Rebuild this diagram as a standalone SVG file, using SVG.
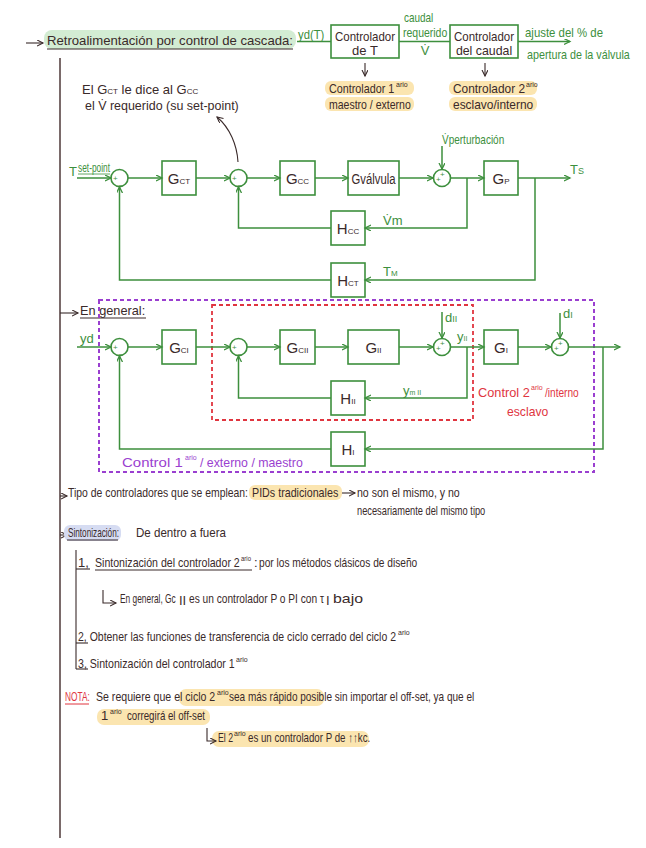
<svg xmlns="http://www.w3.org/2000/svg" width="646" height="848" viewBox="0 0 646 848">
<style>
text{font-family:"Liberation Sans","DejaVu Sans",sans-serif;fill:#3a2a2a;font-size:13px}
.g{fill:#3d8f3d}
.gl{stroke:#3d8f3d;stroke-width:1.5;fill:none}
.bx{stroke:#3d8f3d;stroke-width:1.6;fill:#fff}
.bl{stroke:#3a2a2a;stroke-width:1.1;fill:none}
.vl{stroke:#7a6a6a;stroke-width:2;fill:none}
.lab{font-size:15px;text-anchor:middle}
.sub{font-size:8px}
.sup{font-size:7px}
.sm{font-size:8px;fill:#3d8f3d}
.hy{fill:#fbe5b0}
.hg{fill:#d3ecd3}
.hb{fill:#d6dcf2}
.pu{fill:#9a3fd0}
.rd{fill:#e0353f}
.mid{text-anchor:middle}
</style>
<defs>
<marker id="ag" markerWidth="8" markerHeight="8" refX="6" refY="3" orient="auto" markerUnits="userSpaceOnUse"><path d="M0,0 L6,3 L0,6" fill="none" stroke="#3d8f3d" stroke-width="1.3"/></marker>
<marker id="ab" markerWidth="8" markerHeight="8" refX="6" refY="3" orient="auto" markerUnits="userSpaceOnUse"><path d="M0,0 L6,3 L0,6" fill="none" stroke="#3a2a2a" stroke-width="1.1"/></marker>
</defs>

<!-- main vertical line -->
<line class="vl" x1="60" y1="58" x2="60" y2="838"/>

<!-- header -->
<g id="title">
<line class="bl" x1="26" y1="43" x2="43" y2="43" marker-end="url(#ab)"/>
<rect class="hg" x="44" y="30" width="252" height="19" rx="8"/>
<text transform="translate(47 45) scale(0.75 1)" font-size="14.5" textLength="328" lengthAdjust="spacingAndGlyphs">Retroalimentación por control de cascada:</text>
<line class="bl" x1="47" y1="49" x2="293" y2="49"/>
</g>
<g id="yd-top"><text class="g" transform="translate(298 39) scale(0.75 1)" font-size="12.5" textLength="35" lengthAdjust="spacingAndGlyphs">yd(T)</text></g>
<g id="ctrlT">
<rect class="bx" x="331" y="25" width="68" height="33"/>
<text class="mid" transform="translate(365 41) scale(0.75 1)" font-size="13" textLength="80" lengthAdjust="spacingAndGlyphs">Controlador</text>
<text class="mid" x="365" y="55" font-size="13">de T</text>
</g>
<g id="caudal-label">
<text class="g" transform="translate(404 22) scale(0.75 1)" font-size="12.5" textLength="39" lengthAdjust="spacingAndGlyphs">caudal</text>
<text class="g" transform="translate(403 37) scale(0.75 1)" font-size="12.5" textLength="59" lengthAdjust="spacingAndGlyphs">requerido</text>
<text class="g mid" x="425" y="55" font-size="12">V̇</text>
</g>
<g id="ctrlCaudal">
<rect class="bx" x="450" y="25" width="68" height="33"/>
<text class="mid" transform="translate(484 41) scale(0.75 1)" font-size="13" textLength="80" lengthAdjust="spacingAndGlyphs">Controlador</text>
<text class="mid" transform="translate(484 55) scale(0.75 1)" font-size="13" textLength="75" lengthAdjust="spacingAndGlyphs">del caudal</text>
</g>
<g id="ajuste">
<text class="g" transform="translate(525 37) scale(0.75 1)" font-size="13" textLength="104" lengthAdjust="spacingAndGlyphs">ajuste del % de</text>
<text class="g" transform="translate(527 59) scale(0.75 1)" font-size="13" textLength="137" lengthAdjust="spacingAndGlyphs">apertura de la válvula</text>
</g>
<g id="lbl1ario">
<rect class="hy" x="325" y="81" width="89" height="14" rx="6"/>
<rect class="hy" x="325" y="97" width="89" height="14" rx="6"/>
<text transform="translate(329 93) scale(0.75 1)" font-size="13" textLength="87" lengthAdjust="spacingAndGlyphs">Controlador 1</text>
<text x="396" y="87" class="sup">ario</text>
<text transform="translate(329 109) scale(0.75 1)" font-size="13" textLength="109" lengthAdjust="spacingAndGlyphs">maestro / externo</text>
</g>
<g id="lbl2ario">
<rect class="hy" x="449" y="81" width="88" height="14" rx="6"/>
<rect class="hy" x="449" y="97" width="88" height="14" rx="6"/>
<text transform="translate(453 93) scale(0.75 1)" font-size="13" textLength="96" lengthAdjust="spacingAndGlyphs">Controlador 2</text>
<text x="526" y="87" class="sup">ario</text>
<text transform="translate(453 109) scale(0.75 1)" font-size="13" textLength="107" lengthAdjust="spacingAndGlyphs">esclavo/interno</text>
</g>
<g id="note-gct">
<text x="82" y="94" font-size="12.5">El G<tspan class="sub">CT</tspan> le dice al G<tspan class="sub">CC</tspan></text>
<text transform="translate(85 110) scale(0.75 1)" font-size="13" textLength="205" lengthAdjust="spacingAndGlyphs">el V̇ requerido (su set-point)</text>
</g>

<!-- top connectors -->
<g id="top-connectors">
<line class="gl" x1="297" y1="41.5" x2="331" y2="41.5"/>
<line class="gl" x1="399" y1="41.5" x2="450" y2="41.5"/>
<line class="gl" x1="518" y1="41.5" x2="570" y2="41.5" marker-end="url(#ag)"/>
<line class="bl" x1="365" y1="63" x2="365" y2="76" marker-end="url(#ab)"/>
<line class="bl" x1="485" y1="63" x2="485" y2="76" marker-end="url(#ab)"/>
<path class="bl" d="M238,162 C237,145 230,128 217,117" marker-end="url(#ab)"/>
</g>

<!-- Diagram 1 -->
<g id="d1-labels">
<text class="g" x="69" y="176" font-size="14">T</text>
<text class="g" transform="translate(78 172) scale(0.8 1)" font-size="9.5" textLength="40" lengthAdjust="spacingAndGlyphs">set-point</text>
<line x1="78" y1="174" x2="110" y2="174" stroke="#3d8f3d" stroke-width="0.8"/>
<text class="g" transform="translate(442 144) scale(0.75 1)" font-size="12" textLength="83" lengthAdjust="spacingAndGlyphs">V̇perturbación</text>
<text class="g" x="570" y="174" font-size="13">T<tspan font-size="9">S</tspan></text>
<text class="g" x="383" y="225" font-size="11">V̇m</text>
<text class="g" x="383" y="276" font-size="11">T<tspan font-size="8">M</tspan></text>
</g>
<g id="d1-sum1"><circle class="bx" cx="119.5" cy="178" r="8.5"/><text class="sm" x="113" y="181">+</text><text class="sm" x="119" y="184">_</text></g>
<g id="d1-Gct"><rect class="bx" x="162" y="161" width="34" height="34"/><text class="lab" x="179" y="184">G<tspan class="sub">CT</tspan></text></g>
<g id="d1-sum2"><circle class="bx" cx="238.5" cy="178" r="8.5"/><text class="sm" x="232" y="181">+</text><text class="sm" x="238" y="184">_</text></g>
<g id="d1-Gcc"><rect class="bx" x="280" y="161" width="35" height="34"/><text class="lab" x="297.5" y="184">G<tspan class="sub">CC</tspan></text></g>
<g id="d1-Gvalv"><rect class="bx" x="348" y="161" width="51" height="34"/><text class="lab" transform="translate(373.5 184) scale(0.8 1)" font-size="14.5" textLength="55" lengthAdjust="spacingAndGlyphs">Gválvula</text></g>
<g id="d1-sum3"><circle class="bx" cx="442" cy="178" r="8.5"/><text class="sm" x="436" y="182">+</text><text class="sm" x="440" y="177">+</text></g>
<g id="d1-Gp"><rect class="bx" x="484" y="161" width="34" height="34"/><text class="lab" x="501" y="184">G<tspan class="sub">P</tspan></text></g>
<g id="d1-Hcc"><rect class="bx" x="331" y="211" width="34" height="34"/><text class="lab" x="348" y="234">H<tspan class="sub">CC</tspan></text></g>
<g id="d1-Hct"><rect class="bx" x="331" y="263" width="34" height="34"/><text class="lab" x="348" y="286">H<tspan class="sub">CT</tspan></text></g>
<g id="d1-connectors">
<line class="gl" x1="77" y1="178" x2="111" y2="178" marker-end="url(#ag)"/>
<line class="gl" x1="128" y1="178" x2="162" y2="178" marker-end="url(#ag)"/>
<line class="gl" x1="196" y1="178" x2="230" y2="178" marker-end="url(#ag)"/>
<line class="gl" x1="247" y1="178" x2="280" y2="178" marker-end="url(#ag)"/>
<line class="gl" x1="315" y1="178" x2="348" y2="178" marker-end="url(#ag)"/>
<line class="gl" x1="399" y1="178" x2="433" y2="178" marker-end="url(#ag)"/>
<line class="gl" x1="451" y1="178" x2="484" y2="178" marker-end="url(#ag)"/>
<line class="gl" x1="518" y1="178" x2="570" y2="178" marker-end="url(#ag)"/>
<line class="gl" x1="442" y1="146" x2="442" y2="169" marker-end="url(#ag)"/>
<polyline class="gl" points="467,178 467,228 365,228" marker-end="url(#ag)"/>
<polyline class="gl" points="331,228 238.5,228 238.5,187" marker-end="url(#ag)"/>
<polyline class="gl" points="535,178 535,280 365,280" marker-end="url(#ag)"/>
<polyline class="gl" points="331,280 119.5,280 119.5,187" marker-end="url(#ag)"/>
</g>

<!-- Diagram 2 -->
<g id="en-general">
<line class="bl" x1="60" y1="313" x2="78" y2="313" marker-end="url(#ab)"/>
<text transform="translate(80 315) scale(0.75 1)" font-size="14.5" textLength="87" lengthAdjust="spacingAndGlyphs">En general:</text>
<line class="bl" x1="80" y1="318" x2="146" y2="318"/>
</g>
<g id="box-primario">
<rect x="99" y="300" width="495" height="172" fill="none" stroke="#9a3fd0" stroke-width="2" stroke-dasharray="4 3"/>
<text class="pu" transform="translate(122 467) scale(0.75 1)" font-size="15.5" textLength="81" lengthAdjust="spacingAndGlyphs">Control 1</text>
<text class="pu sup" x="185" y="460">ario</text>
<text class="pu" transform="translate(200 467) scale(0.75 1)" font-size="15.5" textLength="137" lengthAdjust="spacingAndGlyphs">/ externo / maestro</text>
</g>
<g id="box-secundario">
<rect x="212" y="305" width="261" height="115" fill="none" stroke="#e0353f" stroke-width="1.8" stroke-dasharray="4 3"/>
<text class="rd" transform="translate(478 397) scale(0.75 1)" font-size="14.5" textLength="69" lengthAdjust="spacingAndGlyphs">Control 2</text>
<text class="rd sup" x="531" y="390">ario</text>
<text class="rd" transform="translate(545 397) scale(0.75 1)" font-size="14.5" textLength="45" lengthAdjust="spacingAndGlyphs">/interno</text>
<text class="rd" transform="translate(507 416) scale(0.75 1)" font-size="14.5" textLength="55" lengthAdjust="spacingAndGlyphs">esclavo</text>
</g>
<g id="d2-labels">
<text class="g" x="80" y="343" font-size="13">yd</text>
<text class="g" x="445" y="322" font-size="14">d<tspan font-size="9">II</tspan></text>
<text class="g" x="457" y="341" font-size="11">y<tspan font-size="7">II</tspan></text>
<text class="g" x="403" y="395" font-size="11">y<tspan font-size="7">m II</tspan></text>
<text class="g" x="563" y="318" font-size="14">d<tspan font-size="9">I</tspan></text>
</g>
<g id="d2-sum1"><circle class="bx" cx="119.5" cy="347" r="8.5"/><text class="sm" x="113" y="350">+</text><text class="sm" x="119" y="353">_</text></g>
<g id="d2-GcI"><rect class="bx" x="162" y="330" width="34" height="34"/><text class="lab" x="179" y="353">G<tspan class="sub">CI</tspan></text></g>
<g id="d2-sum2"><circle class="bx" cx="238.5" cy="347" r="8.5"/><text class="sm" x="232" y="350">+</text><text class="sm" x="238" y="353">_</text></g>
<g id="d2-GcII"><rect class="bx" x="280" y="330" width="35" height="34"/><text class="lab" x="297.5" y="353">G<tspan class="sub">CII</tspan></text></g>
<g id="d2-GII"><rect class="bx" x="348" y="330" width="51" height="34"/><text class="lab" x="373.5" y="353">G<tspan class="sub">II</tspan></text></g>
<g id="d2-sum3"><circle class="bx" cx="442" cy="347" r="8.5"/><text class="sm" x="436" y="351">+</text><text class="sm" x="440" y="346">+</text></g>
<g id="d2-GI"><rect class="bx" x="484" y="330" width="34" height="34"/><text class="lab" x="501" y="353">G<tspan class="sub">I</tspan></text></g>
<g id="d2-sum4"><circle class="bx" cx="560" cy="347" r="8.5"/><text class="sm" x="554" y="351">+</text><text class="sm" x="558" y="346">+</text></g>
<g id="d2-HII"><rect class="bx" x="331" y="381" width="34" height="34"/><text class="lab" x="348" y="404">H<tspan class="sub">II</tspan></text></g>
<g id="d2-HI"><rect class="bx" x="331" y="432" width="34" height="34"/><text class="lab" x="348" y="455">H<tspan class="sub">I</tspan></text></g>
<g id="d2-connectors">
<line class="gl" x1="77" y1="347" x2="111" y2="347" marker-end="url(#ag)"/>
<line class="gl" x1="128" y1="347" x2="162" y2="347" marker-end="url(#ag)"/>
<line class="gl" x1="196" y1="347" x2="230" y2="347" marker-end="url(#ag)"/>
<line class="gl" x1="247" y1="347" x2="280" y2="347" marker-end="url(#ag)"/>
<line class="gl" x1="315" y1="347" x2="348" y2="347" marker-end="url(#ag)"/>
<line class="gl" x1="399" y1="347" x2="433" y2="347" marker-end="url(#ag)"/>
<line class="gl" x1="451" y1="347" x2="484" y2="347" marker-end="url(#ag)"/>
<line class="gl" x1="518" y1="347" x2="551" y2="347" marker-end="url(#ag)"/>
<line class="gl" x1="568.5" y1="347" x2="620" y2="347" marker-end="url(#ag)"/>
<line class="gl" x1="442" y1="312" x2="442" y2="338" marker-end="url(#ag)"/>
<line class="gl" x1="560" y1="313" x2="560" y2="338" marker-end="url(#ag)"/>
<polyline class="gl" points="467,347 467,398 365,398" marker-end="url(#ag)"/>
<polyline class="gl" points="331,398 238.5,398 238.5,356" marker-end="url(#ag)"/>
<polyline class="gl" points="603,347 603,449 365,449" marker-end="url(#ag)"/>
<polyline class="gl" points="331,449 119.5,449 119.5,356" marker-end="url(#ag)"/>
</g>

<!-- Notes -->
<g id="tipo">
<polyline class="bl" points="60,496 67,496" marker-end="url(#ab)"/>
<rect class="hy" x="249" y="485" width="93" height="15" rx="6"/>
<text transform="translate(68 497) scale(0.75 1)" font-size="14" textLength="240" lengthAdjust="spacingAndGlyphs">Tipo de controladores que se emplean:</text>
<text transform="translate(252 497) scale(0.75 1)" font-size="14" textLength="115" lengthAdjust="spacingAndGlyphs">PIDs tradicionales</text>
<line class="bl" x1="342" y1="493" x2="355" y2="493" marker-end="url(#ab)"/>
<text transform="translate(357 497) scale(0.75 1)" font-size="13.5" textLength="137" lengthAdjust="spacingAndGlyphs">no son el mismo, y no</text>
<text transform="translate(357 515) scale(0.75 1)" font-size="13.5" textLength="171" lengthAdjust="spacingAndGlyphs">necesariamente del mismo tipo</text>
</g>
<g id="sintonizacion">
<line class="bl" x1="60" y1="535" x2="67" y2="535" marker-end="url(#ab)"/>
<rect class="hb" x="64" y="525" width="57" height="16" rx="6"/>
<text transform="translate(68 537) scale(0.75 1)" font-size="13.5" textLength="68" lengthAdjust="spacingAndGlyphs">Sintonización:</text>
<line class="bl" x1="67" y1="540" x2="118" y2="540"/>
<text transform="translate(136 537) scale(0.75 1)" font-size="14" textLength="120" lengthAdjust="spacingAndGlyphs">De dentro a fuera</text>
<line class="bl" x1="76" y1="550" x2="76" y2="669"/>
</g>
<g id="paso1">
<line class="bl" x1="76" y1="569" x2="90" y2="569"/>
<text x="78" y="567" font-size="13">1,</text>
<text transform="translate(95 567) scale(0.75 1)" font-size="13" textLength="193" lengthAdjust="spacingAndGlyphs">Sintonización del controlador 2</text>
<text x="241" y="561" class="sup" textLength="10" lengthAdjust="spacingAndGlyphs">ario</text>
<text x="254" y="567" font-size="13">:</text>
<line class="bl" x1="95" y1="570" x2="252" y2="570"/>
<text transform="translate(259 567) scale(0.75 1)" font-size="13.5" textLength="211" lengthAdjust="spacingAndGlyphs">por los métodos clásicos de diseño</text>
<polyline class="bl" points="103,590 103,603 116,603" marker-end="url(#ab)"/>
<text transform="translate(120 603) scale(0.68 1)" font-size="12.5" textLength="82" lengthAdjust="spacingAndGlyphs">En general, Gc</text>
<text x="179" y="605" font-size="7">II</text>
<text transform="translate(189 603) scale(0.75 1)" font-size="13.5" textLength="180" lengthAdjust="spacingAndGlyphs">es un controlador P o PI con τ</text>
<text x="326" y="605" font-size="7">I</text>
<text x="333" y="603" font-size="13.5" textLength="30" lengthAdjust="spacingAndGlyphs">bajo</text>
</g>
<g id="paso2">
<line class="bl" x1="76" y1="643" x2="88" y2="643"/>
<text transform="translate(78 641) scale(0.75 1)" font-size="13.5" textLength="424" lengthAdjust="spacingAndGlyphs">2, Obtener las funciones de transferencia de ciclo cerrado del ciclo 2</text>
<text x="398" y="635" class="sup">ario</text>
</g>
<g id="paso3">
<line class="bl" x1="76" y1="669" x2="88" y2="669"/>
<text transform="translate(78 668) scale(0.75 1)" font-size="13.5" textLength="209" lengthAdjust="spacingAndGlyphs">3, Sintonización del controlador 1</text>
<text x="236" y="662" class="sup">ario</text>
</g>
<g id="nota">
<rect class="hy" x="179" y="689" width="145" height="17" rx="7"/>
<rect class="hy" x="97" y="709" width="113" height="16" rx="7"/>
<rect class="hy" x="212" y="731" width="157" height="16" rx="7"/>
<text class="rd" transform="translate(65 701) scale(0.75 1)" font-size="13" textLength="33" lengthAdjust="spacingAndGlyphs">NOTA:</text>
<line x1="65" y1="704" x2="89" y2="704" stroke="#e0353f" stroke-width="1"/>
<text transform="translate(96 701) scale(0.75 1)" font-size="13" textLength="159" lengthAdjust="spacingAndGlyphs">Se requiere que el ciclo 2</text>
<text x="217" y="695" class="sup">ario</text>
<text transform="translate(229 701) scale(0.75 1)" font-size="13.5" textLength="327" lengthAdjust="spacingAndGlyphs">sea más rápido posible sin importar el off-set, ya que el</text>
<text x="101" y="720" font-size="13.5">1</text>
<text x="110" y="714" class="sup">ario</text>
<text transform="translate(127 720) scale(0.75 1)" font-size="13.5" textLength="104" lengthAdjust="spacingAndGlyphs">corregirá el off-set</text>
<polyline class="bl" points="207,728 207,741 216,741" marker-end="url(#ab)"/>
<text transform="translate(218 742) scale(0.75 1)" font-size="13.5" textLength="20" lengthAdjust="spacingAndGlyphs">El 2</text>
<text x="234" y="736" class="sup">ario</text>
<text transform="translate(248 742) scale(0.75 1)" font-size="13.5" textLength="163" lengthAdjust="spacingAndGlyphs">es un controlador P de ↑↑kc.</text>
</g>
</svg>
